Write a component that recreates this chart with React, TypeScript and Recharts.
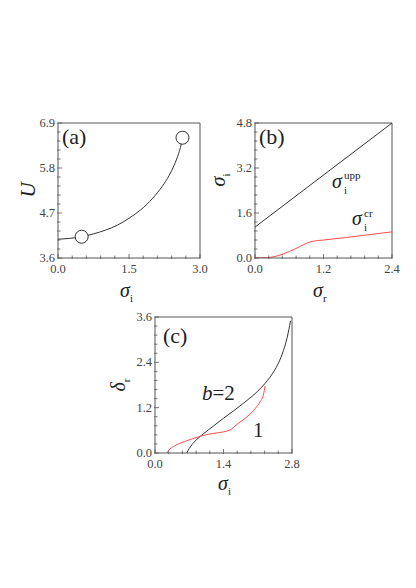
import React from "react";
import { LineChart, Line, XAxis, YAxis, ReferenceLine } from "recharts";

const FONT = "'Liberation Serif', 'Times New Roman', serif";
const AXIS = "#555";
const INK = "#333";
const RED = "#ff4a4a";

// panel (a): U vs sigma_i
const aCurve = [
  { x: 0, y: 4.06 },
  { x: 0.25, y: 4.08 },
  { x: 0.5, y: 4.12 },
  { x: 0.75, y: 4.19 },
  { x: 1.0, y: 4.28 },
  { x: 1.25, y: 4.4 },
  { x: 1.5, y: 4.57 },
  { x: 1.75, y: 4.78 },
  { x: 2.0, y: 5.06 },
  { x: 2.2, y: 5.35 },
  { x: 2.35, y: 5.62 },
  { x: 2.45, y: 5.86 },
  { x: 2.55, y: 6.16 },
  { x: 2.6, y: 6.36 },
  { x: 2.63, y: 6.52 },
];
const aCircles = [
  { x: 0.5, y: 4.12 },
  { x: 2.63, y: 6.54 },
];
const aXTicks = [0, 0.3, 0.6, 0.9, 1.2, 1.5, 1.8, 2.1, 2.4, 2.7, 3.0];
const aXMajor = [0, 1.5, 3.0];
const aYTicks = [3.6, 3.82, 4.04, 4.26, 4.48, 4.7, 4.92, 5.14, 5.36, 5.58, 5.8, 6.02, 6.24, 6.46, 6.68, 6.9];
const aYMajor = [3.6, 4.7, 5.8, 6.9];

// panel (b): sigma_i vs sigma_r
const bUpper = [
  { x: 0, y: 1.1 },
  { x: 2.4, y: 4.8 },
];
const bCritical = [
  { x: 0, y: 0 },
  { x: 0.2, y: 0.01 },
  { x: 0.4, y: 0.08 },
  { x: 0.6, y: 0.23 },
  { x: 0.8, y: 0.42 },
  { x: 0.9, y: 0.52 },
  { x: 1.0, y: 0.59 },
  { x: 1.2, y: 0.64 },
  { x: 1.6, y: 0.73 },
  { x: 2.0, y: 0.83 },
  { x: 2.4, y: 0.93 },
];
const bXTicks = [0, 0.24, 0.48, 0.72, 0.96, 1.2, 1.44, 1.68, 1.92, 2.16, 2.4];
const bXMajor = [0, 1.2, 2.4];
const bYTicks = [0, 0.32, 0.64, 0.96, 1.28, 1.6, 1.92, 2.24, 2.56, 2.88, 3.2, 3.52, 3.84, 4.16, 4.48, 4.8];
const bYMajor = [0, 1.6, 3.2, 4.8];

// panel (c): delta_r vs sigma_i
const cB2 = [
  { x: 0.65, y: 0 },
  { x: 0.7, y: 0.12 },
  { x: 0.8, y: 0.29 },
  { x: 0.9, y: 0.41 },
  { x: 1.0, y: 0.52 },
  { x: 1.2, y: 0.72 },
  { x: 1.4, y: 0.92 },
  { x: 1.6, y: 1.11 },
  { x: 1.8, y: 1.31 },
  { x: 2.0, y: 1.52 },
  { x: 2.2, y: 1.77 },
  { x: 2.4, y: 2.1 },
  { x: 2.5, y: 2.32 },
  { x: 2.6, y: 2.62 },
  { x: 2.7, y: 3.05 },
  { x: 2.77, y: 3.5 },
];
const cB1 = [
  { x: 0.24, y: 0 },
  { x: 0.3, y: 0.1 },
  { x: 0.4, y: 0.19 },
  { x: 0.6, y: 0.3 },
  { x: 0.8, y: 0.39 },
  { x: 1.0, y: 0.47 },
  { x: 1.2, y: 0.52 },
  { x: 1.4, y: 0.56 },
  { x: 1.52, y: 0.6 },
  { x: 1.7, y: 0.78 },
  { x: 1.9, y: 0.98 },
  { x: 2.05, y: 1.18 },
  { x: 2.15, y: 1.36 },
  { x: 2.22, y: 1.56 },
  { x: 2.25, y: 1.78 },
];
const cXTicks = [0, 0.28, 0.56, 0.84, 1.12, 1.4, 1.68, 1.96, 2.24, 2.52, 2.8];
const cXMajor = [0, 1.4, 2.8];
const cYTicks = [0, 0.24, 0.48, 0.72, 0.96, 1.2, 1.44, 1.68, 1.92, 2.16, 2.4, 2.64, 2.88, 3.12, 3.36, 3.6];
const cYMajor = [0, 1.2, 2.4, 3.6];

const isMajor = (v: number, majors: number[]) => majors.some((m) => Math.abs(m - v) < 1e-6);

const serif = { fontFamily: FONT };

function makeXTick(majors: number[]) {
  return (props: any) => {
    const { x, y, payload } = props;
    const major = isMajor(payload.value, majors);
    return (
      <g>
        <line x1={x} x2={x} y1={y + 1} y2={y - (major ? 4 : 2.5)} stroke={AXIS} strokeWidth={0.8} />
        {major ? (
          <text x={x} y={y + 15} textAnchor="middle" style={serif} fontSize={12.5} fill="#444">
            {payload.value.toFixed(1)}
          </text>
        ) : null}
      </g>
    );
  };
}

function makeYTick(majors: number[]) {
  return (props: any) => {
    const { x, y, payload } = props;
    const major = isMajor(payload.value, majors);
    return (
      <g>
        <line x1={x - 1} x2={x + (major ? 4 : 2.5)} y1={y} y2={y} stroke={AXIS} strokeWidth={0.8} />
        {major ? (
          <text x={x - 3} y={y + 4} textAnchor="end" style={serif} fontSize={12.5} fill="#444">
            {payload.value.toFixed(1)}
          </text>
        ) : null}
      </g>
    );
  };
}

function SigmaLabel({ x, y, sub, rotate }: { x: number; y: number; sub: string; rotate?: boolean }) {
  return (
    <text
      x={x}
      y={y}
      style={serif}
      fill="#222"
      textAnchor={rotate ? "middle" : "start"}
      transform={rotate ? `rotate(-90 ${x} ${y})` : undefined}
    >
      <tspan fontSize={20} fontStyle="italic">σ</tspan>
      <tspan fontSize={11} dy={5}>{sub}</tspan>
    </text>
  );
}

function PanelTag({ x, y, text }: { x: number; y: number; text: string }) {
  return (
    <text x={x} y={y} style={serif} fontSize={22} fill="#222">
      {text}
    </text>
  );
}

const margin = { top: 10, right: 10, bottom: 0, left: 0 };

export default function App() {
  return (
    <div
      style={{
        position: "absolute",
        left: 0,
        top: 0,
        width: 416,
        height: 588,
        background: "#fff",
        overflow: "hidden",
        fontFamily: FONT,
      }}
    >
      {/* (a) */}
      <div style={{ position: "absolute", left: 8, top: 113 }}>
        <LineChart width={202} height={195} margin={margin}>
          <XAxis
            type="number"
            dataKey="x"
            domain={[0, 3]}
            ticks={aXTicks}
            interval={0}
            tickLine={false}
            tickSize={0}
            tickMargin={0}
            height={50}
            axisLine={{ stroke: AXIS }}
            tick={makeXTick(aXMajor)}
            allowDataOverflow
          />
          <YAxis
            type="number"
            dataKey="y"
            domain={[3.6, 6.9]}
            ticks={aYTicks}
            interval={0}
            tickLine={false}
            tickSize={0}
            tickMargin={0}
            width={50}
            axisLine={{ stroke: AXIS }}
            tick={makeYTick(aYMajor)}
            allowDataOverflow
          />
          <ReferenceLine y={6.9} stroke={AXIS} />
          <ReferenceLine x={3} stroke={AXIS} />
          <Line data={aCurve} dataKey="y" type="monotone" stroke={INK} strokeWidth={1} dot={false} isAnimationActive={false} />
          <Line
            data={aCircles}
            dataKey="y"
            stroke="none"
            dot={{ r: 6.5, fill: "#fff", stroke: INK, strokeWidth: 1 }}
            isAnimationActive={false}
          />
          <PanelTag x={54} y={31} text="(a)" />
          <text
            x={27}
            y={77}
            style={serif}
            fontSize={21}
            fontStyle="italic"
            fill="#222"
            textAnchor="middle"
            transform="rotate(-90 27 77)"
          >
            U
          </text>
          <SigmaLabel x={112} y={184} sub="i" />
        </LineChart>
      </div>

      {/* (b) */}
      <div style={{ position: "absolute", left: 205, top: 113 }}>
        <LineChart width={197} height={195} margin={margin}>
          <XAxis
            type="number"
            dataKey="x"
            domain={[0, 2.4]}
            ticks={bXTicks}
            interval={0}
            tickLine={false}
            tickSize={0}
            tickMargin={0}
            height={50}
            axisLine={{ stroke: AXIS }}
            tick={makeXTick(bXMajor)}
            allowDataOverflow
          />
          <YAxis
            type="number"
            dataKey="y"
            domain={[0, 4.8]}
            ticks={bYTicks}
            interval={0}
            tickLine={false}
            tickSize={0}
            tickMargin={0}
            width={50}
            axisLine={{ stroke: AXIS }}
            tick={makeYTick(bYMajor)}
            allowDataOverflow
          />
          <ReferenceLine y={4.8} stroke={AXIS} />
          <ReferenceLine x={2.4} stroke={AXIS} />
          <Line data={bUpper} dataKey="y" type="linear" stroke={INK} strokeWidth={1} dot={false} isAnimationActive={false} />
          <Line data={bCritical} dataKey="y" type="monotone" stroke={RED} strokeWidth={1} dot={false} isAnimationActive={false} />
          <PanelTag x={54} y={31} text="(b)" />
          <SigmaLabel x={20} y={67} sub="i" rotate />
          <SigmaLabel x={108} y={184} sub="r" />
          <text x={127} y={75} style={serif} fontSize={20} fontStyle="italic" fill="#222">σ</text>
          <text x={139} y={81} style={serif} fontSize={11} fill="#222">i</text>
          <text x={139} y={66} style={serif} fontSize={11} fill="#222">upp</text>
          <text x={147} y={112} style={serif} fontSize={20} fontStyle="italic" fill="#222">σ</text>
          <text x={159} y={118} style={serif} fontSize={11} fill="#222">i</text>
          <text x={159} y={104} style={serif} fontSize={11} fill="#222">cr</text>
        </LineChart>
      </div>

      {/* (c) */}
      <div style={{ position: "absolute", left: 105, top: 307 }}>
        <LineChart width={197} height={196} margin={margin}>
          <XAxis
            type="number"
            dataKey="x"
            domain={[0, 2.8]}
            ticks={cXTicks}
            interval={0}
            tickLine={false}
            tickSize={0}
            tickMargin={0}
            height={50}
            axisLine={{ stroke: AXIS }}
            tick={makeXTick(cXMajor)}
            allowDataOverflow
          />
          <YAxis
            type="number"
            dataKey="y"
            domain={[0, 3.6]}
            ticks={cYTicks}
            interval={0}
            tickLine={false}
            tickSize={0}
            tickMargin={0}
            width={50}
            axisLine={{ stroke: AXIS }}
            tick={makeYTick(cYMajor)}
            allowDataOverflow
          />
          <ReferenceLine y={3.6} stroke={AXIS} />
          <ReferenceLine x={2.8} stroke={AXIS} />
          <Line data={cB2} dataKey="y" type="monotone" stroke={INK} strokeWidth={1} dot={false} isAnimationActive={false} />
          <Line data={cB1} dataKey="y" type="monotone" stroke={RED} strokeWidth={1} dot={false} isAnimationActive={false} />
          <PanelTag x={58} y={36} text="(c)" />
          <text
            x={20}
            y={78}
            style={serif}
            fill="#222"
            textAnchor="middle"
            transform="rotate(-90 20 78)"
          >
            <tspan fontSize={20} fontStyle="italic">δ</tspan>
            <tspan fontSize={11} dy={5}>r</tspan>
          </text>
          <SigmaLabel x={113} y={183} sub="i" />
          <text x={97} y={93} style={serif} fontSize={21} fill="#222">
            <tspan fontStyle="italic">b</tspan>=2
          </text>
          <text x={148} y={130} style={serif} fontSize={21} fill="#222">1</text>
        </LineChart>
      </div>
    </div>
  );
}
